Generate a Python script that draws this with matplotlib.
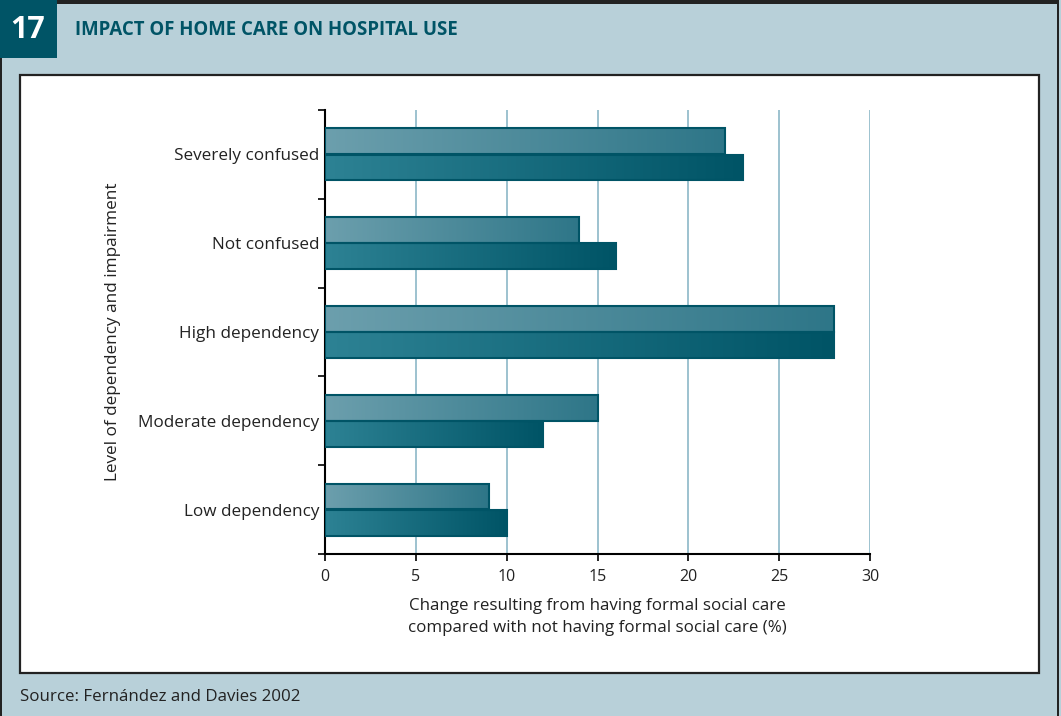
import numpy as np
import matplotlib.pyplot as plt
from matplotlib.patches import Rectangle
from matplotlib.colors import LinearSegmentedColormap

# Data
categories = ['Low dependency', 'Moderate dependency', 'High dependency',
              'Not confused', 'Severely confused']
upper_bar = [9, 15, 28, 14, 22]    # lighter bar (top of each pair)
lower_bar = [10, 12, 28, 16, 23]   # darker bar (bottom of each pair)
x_ticks = [0, 5, 10, 15, 20, 25, 30]

DARK = '#005466'
BG = '#b8d0d9'
W, H = 1061, 716

plt.rcParams['font.family'] = ['Open Sans', 'DejaVu Sans']

fig = plt.figure(figsize=(W / 100, H / 100), dpi=100)
fig.patch.set_facecolor(BG)


def frame_rect(x0, y0, x1, y1, **kw):
    # rectangle given in pixel coords from top-left
    fig.patches.append(Rectangle((x0 / W, 1 - y1 / H), (x1 - x0) / W, (y1 - y0) / H,
                                 transform=fig.transFigure, zorder=-2, **kw))


# outer border lines and header box
frame_rect(0, 0, 1059, 4, facecolor='#222222', edgecolor='none')
frame_rect(0, 0, 2, H, facecolor='#222222', edgecolor='none')
frame_rect(1057, 0, 1059, H, facecolor='#222222', edgecolor='none')
frame_rect(0, 0, 57, 58, facecolor=DARK, edgecolor='none')
# white chart panel
frame_rect(20, 75, 1039, 673, facecolor='white', edgecolor='#222222', linewidth=1.6)

fig.text(28 / W, 1 - 30 / H, '17', color='white', fontsize=22, fontweight='bold',
         ha='center', va='center')
fig.text(75 / W, 1 - 30 / H, 'IMPACT OF HOME CARE ON HOSPITAL USE', color=DARK,
         fontsize=13.4, fontweight='bold', ha='left', va='center')
fig.text(20 / W, 1 - 697 / H, 'Source: Fernández and Davies 2002', color='#222222',
         fontsize=12.2, ha='left', va='center')

ax = fig.add_axes([325 / W, 162 / H, 545 / W, 444 / H])
ax.set_facecolor('none')

y = np.arange(len(categories))
h = 0.29
off = 0.148


def gradient_bar(ax, ypos, width, c0, c1):
    bar = ax.barh(ypos, width, height=h, color='none', edgecolor=DARK,
                  linewidth=1.5, zorder=4)[0]
    grad = np.linspace(0, 1, 256).reshape(1, -1)
    cmap = LinearSegmentedColormap.from_list('g', [c0, c1])
    im = ax.imshow(grad, cmap=cmap, aspect='auto', zorder=3,
                   extent=[0, width, ypos - h / 2, ypos + h / 2])
    im.set_clip_path(bar)


for i in range(len(categories)):
    gradient_bar(ax, y[i] + off, upper_bar[i], '#6c9fad', '#2e7688')
    gradient_bar(ax, y[i] - off, lower_bar[i], '#2d8294', '#005466')

ax.set_xlim(0, 30)
ax.set_ylim(-0.5, len(categories) - 0.5)

ax.set_xticks(x_ticks)
ax.set_xticklabels([str(t) for t in x_ticks], fontsize=11.5, color='#222222')
ax.xaxis.grid(True, color='#82b2c2', linewidth=1.1, zorder=0)
ax.set_axisbelow(True)

ax.set_yticks(y)
ax.set_yticklabels(categories, fontsize=12.3, color='#222222')
ax.tick_params(axis='y', which='major', length=0, pad=4)
ax.set_yticks(np.arange(-0.5, len(categories), 1.0), minor=True)
ax.tick_params(axis='y', which='minor', length=5, width=1.2, direction='out')
ax.tick_params(axis='x', length=5, width=1.2, direction='out', pad=6)

for s in ['top', 'right']:
    ax.spines[s].set_visible(False)
ax.spines['left'].set_linewidth(1.5)
ax.spines['bottom'].set_linewidth(1.5)

ax.set_xlabel('Change resulting from having formal social care\n'
              'compared with not having formal social care (%)',
              fontsize=12.2, color='#222222', labelpad=9, linespacing=1.5)
ax.set_ylabel('Level of dependency and impairment', fontsize=12.3, color='#222222')
ax.yaxis.set_label_coords(-0.375, 0.5)

fig.savefig('out.png', dpi=100, facecolor=fig.get_facecolor())
